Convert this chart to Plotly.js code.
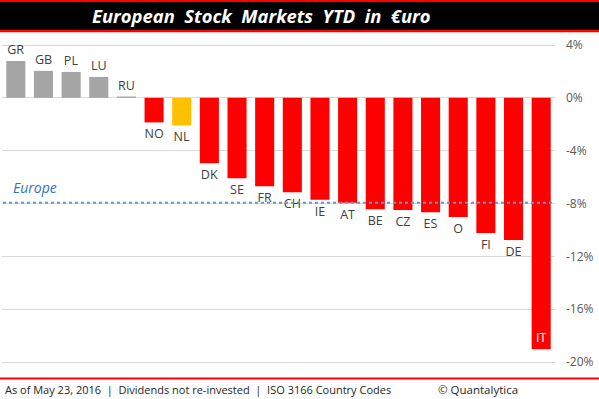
<!DOCTYPE html>
<html>
<head>
<meta charset="utf-8">
<script src="https://cdn.plot.ly/plotly-3.0.1.min.js"></script>
<style>html,body{margin:0;padding:0;background:#fff;}#chart{width:599px;height:399px;}</style>
</head>
<body>
<div id="chart"></div>
<script>
const countries = ['GR','GB','PL','LU','RU','NO','NL','DK','SE','FR','CH','IE','AT','BE','CZ','ES','O','FI','DE','IT'];
const ytdReturns = [2.79, 2.04, 1.96, 1.58, 0.1, -1.86, -2.09, -4.96, -6.09, -6.69, -7.15, -7.72, -7.95, -8.43, -8.50, -8.66, -9.03, -10.24, -10.77, -19.04];
const europeReturn = -7.95;
const highlight = 'NL';
const tickValues = [4, 0, -4, -8, -12, -16, -20];
const titleText = 'European\u00A0\u00A0Stock\u00A0\u00A0Markets\u00A0\u00A0YTD\u00A0\u00A0in\u00A0\u00A0€uro';
const footerLeft = 'As of May 23, 2016\u00A0\u00A0|\u00A0\u00A0Dividends not re-invested\u00A0\u00A0|\u00A0\u00A0ISO 3166 Country Codes';
const footerRight = '© Quantalytica';

const W = 599, H = 399;
const M = {l: 2, r: 44, t: 35, b: 29};
const pw = W - M.l - M.r, ph = H - M.t - M.b;
const px = x => (x - M.l) / pw;
const py = y => (H - M.b - y) / ph;

const colors = countries.map((c, i) => c === highlight ? '#FFC000' : (ytdReturns[i] >= 0 ? '#A5A5A5' : '#FF0000'));
const last = ytdReturns.length - 1;
const textpos = ytdReturns.map((v, i) => i === last ? 'inside' : 'outside');
const textcol = ytdReturns.map((v, i) => i === last ? '#FFFFFF' : '#404040');

const trace = {
  type: 'bar', x: countries, y: ytdReturns,
  marker: {color: colors, line: {width: 0}},
  text: countries, textposition: textpos,
  textfont: {family: 'Open Sans, sans-serif', size: 12.5, color: textcol},
  insidetextanchor: 'end', constraintext: 'none', cliponaxis: false,
  hoverinfo: 'none'
};

const layout = {
  width: W, height: H, margin: M,
  paper_bgcolor: '#fff', plot_bgcolor: '#fff',
  showlegend: false, bargap: 0.31,
  font: {family: 'Open Sans, sans-serif'},
  xaxis: {type: 'category', showticklabels: false, showgrid: false, zeroline: false, showline: false, range: [-0.5, 19.5], fixedrange: true},
  yaxis: {side: 'right', range: [-20 - 8 / (317/24), 4 + 10 / (317/24)], tickvals: tickValues, ticktext: tickValues.map(v => v + '%'),
          showgrid: true, gridcolor: '#D9D9D9', gridwidth: 1, zeroline: true, zerolinecolor: '#D9D9D9', zerolinewidth: 1,
          showline: false, ticks: '', ticklabelstandoff: 10,
          tickfont: {family: 'Open Sans, sans-serif', size: 12, color: '#595959'}},
  shapes: [
    {type: 'rect', xref: 'paper', yref: 'paper', x0: px(0), x1: px(W), y0: py(1), y1: py(30), fillcolor: '#000', line: {width: 0}, layer: 'above'},
    {type: 'line', xref: 'paper', yref: 'paper', x0: px(0), x1: px(W), y0: py(1), y1: py(1), line: {color: '#FF0000', width: 2}},
    {type: 'line', xref: 'paper', yref: 'paper', x0: px(0), x1: px(W), y0: py(31), y1: py(31), line: {color: '#FF0000', width: 2.5}},
    {type: 'line', xref: 'paper', yref: 'paper', x0: px(0), x1: px(W), y0: py(378.5), y1: py(378.5), line: {color: '#FF0000', width: 2}},
    {type: 'line', xref: 'paper', yref: 'y', x0: px(3), x1: 1, y0: europeReturn, y1: europeReturn, line: {color: '#5B9BD5', width: 2, dash: 'dot'}}
  ],
  annotations: [
    {xref: 'paper', yref: 'paper', x: px(261), y: py(16), xanchor: 'center', yanchor: 'middle', showarrow: false,
     text: '<b><i>' + titleText + '</i></b>', font: {family: 'Open Sans, sans-serif', size: 18.4, color: '#FFFFFF'}},
    {xref: 'paper', yref: 'y', x: px(11), y: europeReturn, xanchor: 'left', yanchor: 'bottom', yshift: 4, showarrow: false,
     text: '<i>Europe</i>', font: {family: 'Open Sans, sans-serif', size: 14, color: '#2E75B6'}},
    {xref: 'paper', yref: 'paper', x: px(3), y: py(389), xanchor: 'left', yanchor: 'middle', showarrow: false,
     text: footerLeft, font: {family: 'Open Sans, sans-serif', size: 11, color: '#262626'}},
    {xref: 'paper', yref: 'paper', x: px(520), y: py(389), xanchor: 'right', yanchor: 'middle', showarrow: false,
     text: footerRight, font: {family: 'Open Sans, sans-serif', size: 11.5, color: '#262626'}}
  ]
};

Plotly.newPlot('chart', [trace], layout, {displayModeBar: false, staticPlot: true});
</script>
</body>
</html>
